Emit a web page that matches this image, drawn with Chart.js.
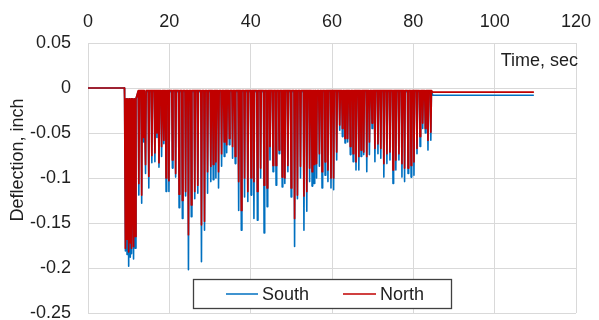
<!DOCTYPE html>
<html><head><meta charset="utf-8">
<script src="https://cdn.jsdelivr.net/npm/chart.js@4/dist/chart.umd.min.js"></script>
<style>html,body{margin:0;padding:0;background:#fff;}#wrap{position:relative;width:599px;height:320px;}canvas{display:block;}</style>
</head><body>
<div id="wrap"><canvas id="c"></canvas></div>
<script>
// ---- data ----
const xTicks = [0, 20, 40, 60, 80, 100, 120];
const yTicks = [0.05, 0, -0.05, -0.1, -0.15, -0.2, -0.25];
const seriesNames = ['South', 'North'];
const xTitle = 'Time, sec';
const yTitle = 'Deflection, inch';

const loadStart = 8.95;          // sec, deflection 0 before this
const clusterCount = 7;          // first dense group of deep spikes
const clusterTop = -0.012;
const southRest = -0.004;
const northRest = -0.003;
const loadEnd = 84.8;
const recordEnd = 109.5;
const southFinal = -0.008;
const northFinal = -0.0045;

// time of each spike tip (sec)
const peakTime = [
  9.2, 9.6, 10.0, 10.4, 10.8, 11.2, 11.6,
  12.5, 13.2, 13.7, 14.15, 14.95, 15.7, 16.45, 16.95, 17.45, 18.1, 18.65, 19.2, 19.9, 20.75, 21.55, 22.4, 23.2,
  24.0, 24.7, 25.4, 26.25, 27.0, 27.9, 28.65, 29.4, 30.2, 30.8, 31.45, 32.1, 32.85, 33.5, 34.1, 34.75, 35.55, 36.2, 37.05, 37.7, 38.5, 39.3,
  40.1, 40.8, 41.65, 42.45, 43.3, 44.05, 44.75, 45.5, 46.25, 47.0, 47.75, 48.4, 49.15, 49.95, 50.8, 51.5, 52.25, 53.1, 53.8, 54.5, 55.1,
  55.6, 56.2, 56.9, 57.55, 58.3, 59.0, 59.75, 60.4, 61.15, 61.9, 62.55, 63.2, 63.85, 64.5, 65.2, 65.9, 66.6, 67.15, 67.8, 68.55, 69.2, 69.85, 70.55,
  71.3, 72.0, 72.75, 73.5, 74.25, 75.0, 75.7, 76.45, 77.2, 77.85, 78.7, 79.45, 80.15, 80.9, 81.65, 82.3, 82.95, 83.6, 84.3
];
const southMin = [
  -0.181, -0.185, -0.198, -0.188, -0.184, -0.190, -0.178,
  -0.119, -0.128, -0.060, -0.095, -0.111, -0.083, -0.082, -0.055, -0.088, -0.076, -0.062, -0.115, -0.115, -0.089, -0.099, -0.133, -0.145,
  -0.120, -0.202, -0.143, -0.123, -0.117, -0.193, -0.158, -0.117, -0.104, -0.102, -0.100, -0.111, -0.087, -0.076, -0.072, -0.063, -0.078, -0.084, -0.136, -0.158, -0.121, -0.126,
  -0.119, -0.145, -0.147, -0.100, -0.161, -0.132, -0.080, -0.093, -0.108, -0.073, -0.110, -0.106, -0.093, -0.121, -0.176, -0.123, -0.100, -0.158, -0.137, -0.104, -0.109,
  -0.106, -0.100, -0.087, -0.111, -0.097, -0.104, -0.111, -0.113, -0.080, -0.047, -0.054, -0.061, -0.060, -0.074, -0.082, -0.091, -0.091, -0.076, -0.074, -0.093, -0.074, -0.045, -0.082,
  -0.073, -0.078, -0.099, -0.084, -0.080, -0.106, -0.091, -0.080, -0.099, -0.104, -0.095, -0.099, -0.097, -0.073, -0.065, -0.045, -0.050, -0.069, -0.058
];
const northMin = [
  -0.178, -0.168, -0.182, -0.172, -0.178, -0.176, -0.165,
  -0.106, -0.119, -0.055, -0.085, -0.098, -0.075, -0.072, -0.050, -0.083, -0.065, -0.058, -0.100, -0.103, -0.080, -0.095, -0.118, -0.125,
  -0.115, -0.163, -0.130, -0.115, -0.108, -0.152, -0.148, -0.093, -0.087, -0.085, -0.082, -0.093, -0.073, -0.060, -0.063, -0.056, -0.065, -0.076, -0.104, -0.136, -0.100, -0.115,
  -0.100, -0.104, -0.115, -0.089, -0.108, -0.111, -0.065, -0.086, -0.086, -0.069, -0.099, -0.100, -0.086, -0.111, -0.145, -0.119, -0.087, -0.120, -0.115, -0.089, -0.093,
  -0.085, -0.084, -0.073, -0.093, -0.082, -0.091, -0.100, -0.100, -0.071, -0.041, -0.045, -0.056, -0.056, -0.065, -0.073, -0.082, -0.076, -0.069, -0.071, -0.076, -0.060, -0.039, -0.067,
  -0.062, -0.067, -0.084, -0.073, -0.071, -0.091, -0.080, -0.073, -0.084, -0.089, -0.089, -0.086, -0.082, -0.067, -0.054, -0.039, -0.045, -0.058, -0.049
];

// ---- build point lists for the library ----
function buildSeries(mins, rest, finalVal) {
  const pts = [{x: 0, y: 0}, {x: loadStart, y: 0}];
  for (let i = 0; i < peakTime.length; i++) {
    const t = peakTime[i];
    const top = i < clusterCount ? clusterTop : rest;
    const hw = i < clusterCount ? 0.2 : 0.15;
    pts.push({x: t - hw, y: top});
    pts.push({x: t, y: mins[i]});
    pts.push({x: t + hw, y: top});
  }
  pts.push({x: loadEnd, y: finalVal});
  pts.push({x: recordEnd, y: finalVal});
  return pts;
}

const FONT = "'Liberation Sans', Arial, sans-serif";
const TXT = '#1f1f1f';
const GRID = '#d9d9d9';
const colors = {South: '#0070C0', North: '#C00000'};

const decor = {
  id: 'decor',
  afterDraw(chart) {
    const ctx = chart.ctx;
    ctx.save();
    ctx.fillStyle = TXT;
    ctx.font = '18px ' + FONT;
    ctx.textAlign = 'right';
    ctx.textBaseline = 'middle';
    ctx.fillText(xTitle, 578, 61);
    ctx.save();
    ctx.translate(18, 160);
    ctx.rotate(-Math.PI / 2);
    ctx.textAlign = 'center';
    ctx.fillText(yTitle, 0, 0);
    ctx.restore();
    const bx = 193.5, by = 279.5, bw = 258, bh = 29;
    ctx.fillStyle = '#fff';
    ctx.fillRect(bx, by, bw, bh);
    ctx.strokeStyle = '#404040';
    ctx.lineWidth = 1.3;
    ctx.strokeRect(bx, by, bw, bh);
    const ly = by + bh / 2;
    const items = [
      {name: seriesNames[0], x0: 226, x1: 258},
      {name: seriesNames[1], x0: 343, x1: 376}
    ];
    items.forEach(it => {
      ctx.strokeStyle = colors[it.name];
      ctx.lineWidth = 1.5;
      ctx.beginPath();
      ctx.moveTo(it.x0, ly);
      ctx.lineTo(it.x1, ly);
      ctx.stroke();
      ctx.fillStyle = TXT;
      ctx.textAlign = 'left';
      ctx.textBaseline = 'middle';
      ctx.fillText(it.name, it.x1 + 4, ly + 1);
    });
    ctx.restore();
  }
};

new Chart(document.getElementById('c'), {
  type: 'line',
  data: {
    datasets: [
      {label: seriesNames[1], data: buildSeries(northMin, northRest, northFinal),
       borderColor: colors.North, borderWidth: 1.7, borderJoinStyle: 'round', borderCapStyle: 'round',
       pointRadius: 0, tension: 0, fill: false},
      {label: seriesNames[0], data: buildSeries(southMin, southRest, southFinal),
       borderColor: colors.South, borderWidth: 1.6, borderJoinStyle: 'round', borderCapStyle: 'round',
       pointRadius: 0, tension: 0, fill: false}
    ]
  },
  options: {
    responsive: true,
    maintainAspectRatio: false,
    devicePixelRatio: 1,
    animation: false,
    events: [],
    parsing: false,
    normalized: true,
    layout: {padding: {left: 0, top: 0, right: 23, bottom: 7}},
    plugins: {legend: {display: false}, tooltip: {enabled: false}},
    scales: {
      x: {
        type: 'linear', position: 'top', min: 0, max: 120,
        afterBuildTicks: s => { s.ticks = xTicks.map(v => ({value: v})); },
        afterFit: s => { s.height = 43; s.paddingLeft = 0; s.paddingRight = 0; s.paddingTop = 0; s.paddingBottom = 0; },
        grid: {color: GRID, lineWidth: 1, drawTicks: false},
        border: {color: GRID, width: 1},
        ticks: {padding: 10, color: TXT, font: {family: FONT, size: 18}, maxRotation: 0,
                callback: v => String(v)}
      },
      y: {
        type: 'linear', min: -0.25, max: 0.05,
        afterBuildTicks: s => { s.ticks = yTicks.map(v => ({value: v})); },
        afterFit: s => { s.width = 88; s.paddingTop = 0; s.paddingBottom = 0; s.paddingLeft = 0; s.paddingRight = 0; },
        grid: {color: GRID, lineWidth: 1, drawTicks: false},
        border: {color: GRID, width: 1},
        ticks: {padding: 17, color: TXT, font: {family: FONT, size: 18},
                callback: v => String(Math.round(v * 100) / 100)}
      }
    }
  },
  plugins: [decor]
});
</script>
</body></html>
